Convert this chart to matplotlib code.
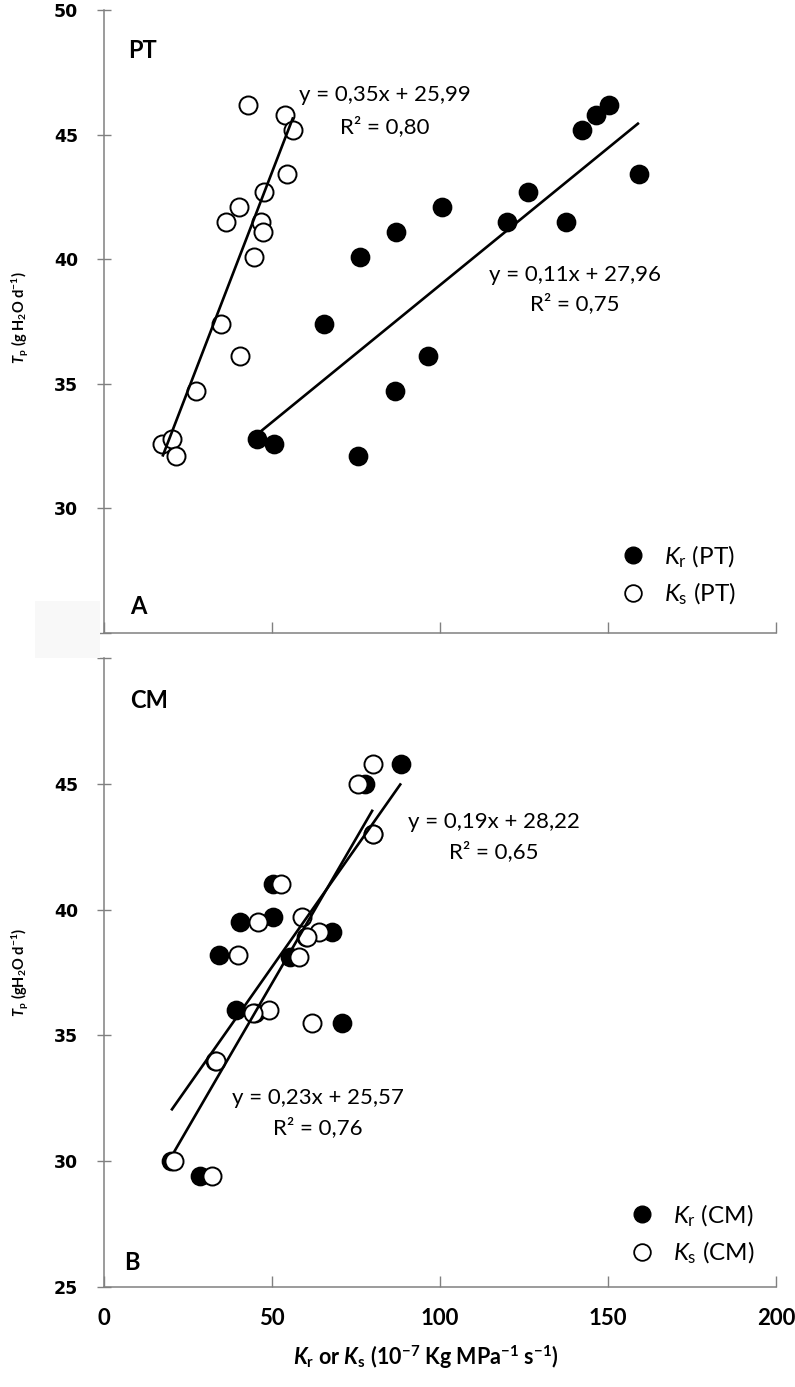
import matplotlib
matplotlib.use("Agg")
import matplotlib.pyplot as plt
import numpy as np
from matplotlib.lines import Line2D
from matplotlib.patches import Rectangle

plt.rcParams['mathtext.fontset'] = 'custom'
plt.rcParams['mathtext.rm'] = 'Lato'
plt.rcParams['mathtext.it'] = 'Lato:italic'
plt.rcParams['mathtext.bf'] = 'Lato:bold'
plt.rcParams['mathtext.bfit'] = 'Lato:bold:italic'
plt.rcParams['font.family'] = ['Lato', 'DejaVu Sans']

# ---- data: panel A (PT) ----
pt_kr = [150.3, 146.3, 142.4, 159.2, 126.1, 100.5, 137.4, 120.0, 86.9, 76.2, 65.5, 96.5, 86.6, 50.6, 45.4, 75.7]
pt_ks = [43.0, 53.9, 56.3, 54.4, 47.7, 40.3, 36.2, 46.7, 47.4, 44.6, 34.7, 40.5, 27.3, 17.4, 20.1, 21.4]
pt_tp = [46.2, 45.8, 45.2, 43.4, 42.7, 42.1, 41.5, 41.5, 41.1, 40.1, 37.4, 36.1, 34.7, 32.6, 32.8, 32.1]
pt_fit_kr = (0.11, 27.96)
pt_fit_ks = (0.35, 25.99)

# ---- data: panel B (CM) ----
cm_kr = [88.4, 77.7, 80.0, 50.4, 40.5, 50.4, 67.8, 60.0, 55.4, 34.3, 39.3, 45.0, 70.9, 33.0, 20.0, 28.6]
cm_ks = [80.0, 75.7, 80.0, 52.7, 45.9, 58.9, 64.0, 60.3, 58.0, 39.8, 49.1, 44.4, 62.0, 33.2, 20.8, 32.2]
cm_tp = [45.8, 45.0, 43.0, 41.0, 39.5, 39.7, 39.1, 38.9, 38.1, 38.2, 36.0, 35.9, 35.5, 34.0, 30.0, 29.4]
cm_fit_kr = (0.19, 28.22)
cm_fit_ks = (0.23, 25.57)

xticks = [0, 50, 100, 150, 200]
yticks = [25, 30, 35, 40, 45, 50]

W, H = 795, 1387
fig = plt.figure(figsize=(W / 100, H / 100), dpi=100)

def fx(px):
    return px / W

def fy(py):
    return 1 - py / H

axA = fig.add_axes([fx(104), fy(633), fx(776) - fx(104), fy(10) - fy(633)])
axB = fig.add_axes([fx(104), fy(1287), fx(776) - fx(104), fy(658) - fy(1287)])

ms = 13
spine_col = '#808080'

def style(ax, show_xlabels, ylab_show):
    ax.set_xlim(0, 200)
    ax.set_ylim(25, 50)
    for s in ['top', 'right']:
        ax.spines[s].set_visible(False)
    for s in ['left', 'bottom']:
        ax.spines[s].set_color(spine_col)
        ax.spines[s].set_linewidth(1.1)
    ax.set_xticks(xticks)
    ax.set_yticks(yticks)
    ax.set_yticklabels([str(v) if v in ylab_show else '' for v in yticks],
                       fontfamily='DejaVu Sans', fontweight='bold', fontsize=12.5)
    if show_xlabels:
        ax.set_xticklabels([str(v) for v in xticks], fontweight='bold', fontsize=16)
    else:
        ax.set_xticklabels([])
    ax.tick_params(axis='y', direction='inout', length=10, width=1.0, color=spine_col, pad=13.5)
    ax.tick_params(axis='x', direction='in', length=8, width=1.0, color=spine_col, pad=15)

def draw_fit(ax, fit, xs):
    x = np.array([min(xs), max(xs)])
    ax.plot(x, fit[0] * x + fit[1], color='black', lw=1.9, zorder=4, solid_capstyle='butt')

# Panel A
axA.plot(pt_kr, pt_tp, 'o', ms=ms, mfc='black', mec='black', mew=1.2, zorder=3)
axA.plot(pt_ks, pt_tp, 'o', ms=ms, mfc='white', mec='black', mew=1.4, zorder=3)
draw_fit(axA, pt_fit_ks, pt_ks)
draw_fit(axA, pt_fit_kr, pt_kr)
style(axA, False, [30, 35, 40, 45, 50])

# Panel B
axB.plot(cm_kr, cm_tp, 'o', ms=ms, mfc='black', mec='black', mew=1.2, zorder=3)
axB.plot(cm_ks, cm_tp, 'o', ms=ms, mfc='white', mec='black', mew=1.4, zorder=3)
draw_fit(axB, cm_fit_kr, cm_kr)
draw_fit(axB, cm_fit_ks, cm_ks)
style(axB, True, [25, 30, 35, 40, 45])

eq_fs = 16
def eq(cx, cy1, cy2, fit, r2):
    fig.text(fx(cx), fy(cy1), 'y = %s x + %s' % (('%.2f' % fit[0]).replace('.', ','),
                                                ('%.2f' % fit[1]).replace('.', ',')),
             ha='center', va='center', fontsize=eq_fs)
    fig.text(fx(cx), fy(cy2), 'R² = %s' % ('%.2f' % r2).replace('.', ','),
             ha='center', va='center', fontsize=eq_fs)

def eq(cx, cy1, cy2, fit, r2):
    a = ('%.2f' % fit[0]).replace('.', ',')
    b = ('%.2f' % fit[1]).replace('.', ',')
    fig.text(fx(cx), fy(cy1), 'y = %sx + %s' % (a, b), ha='center', va='center', fontsize=eq_fs)
    fig.text(fx(cx), fy(cy2), 'R² = %s' % ('%.2f' % r2).replace('.', ','),
             ha='center', va='center', fontsize=eq_fs)

eq(385, 95, 127, pt_fit_ks, 0.80)
eq(575, 275, 304, pt_fit_kr, 0.75)
eq(494, 822, 852, cm_fit_kr, 0.65)
eq(318, 1098, 1128, cm_fit_ks, 0.76)

fig.text(fx(128), fy(50), 'PT', ha='left', va='center', fontsize=17, fontweight='bold')
fig.text(fx(130), fy(607), 'A', ha='left', va='center', fontsize=17, fontweight='bold')
fig.text(fx(130), fy(700), 'CM', ha='left', va='center', fontsize=17, fontweight='bold')
fig.text(fx(124), fy(1262), 'B', ha='left', va='center', fontsize=17, fontweight='bold')

# legends
leg_fs = 17.5
def legend(ax, lab1, lab2, anchor):
    h = [Line2D([], [], ls='none', marker='o', ms=12, mfc='black', mec='black'),
         Line2D([], [], ls='none', marker='o', ms=12, mfc='white', mec='black', mew=1.3)]
    lg = ax.legend(h, [lab1, lab2], loc='center left', bbox_to_anchor=anchor,
                   bbox_transform=fig.transFigure, frameon=False, fontsize=leg_fs,
                   handletextpad=0.75, labelspacing=0.45, borderpad=0, borderaxespad=0,
                   handlelength=1.0)
    return lg

legend(axA, r'$\mathit{K}_\mathrm{r}$ (PT)', r'$\mathit{K}_\mathrm{s}$ (PT)', (fx(621), fy(575)))
legend(axB, r'$\mathit{K}_\mathrm{r}$ (CM)', r'$\mathit{K}_\mathrm{s}$ (CM)', (fx(630), fy(1234)))

# axis labels
fig.text(fx(20), fy(318), r'$\mathbfit{T}_\mathbf{p}$ (g H$_\mathbf{2}$O d$^\mathbf{-1}$)',
         rotation=90, ha='center', va='center', fontsize=10.5, fontweight='bold')
fig.text(fx(20), fy(972), r'$\mathbfit{T}_\mathbf{p}$ (gH$_\mathbf{2}$O d$^\mathbf{-1}$)',
         rotation=90, ha='center', va='center', fontsize=10.5, fontweight='bold')
fig.text(fx(426), fy(1357),
         r'$\mathbfit{K}_\mathbf{r}$ or $\mathbfit{K}_\mathbf{s}$ (10$^\mathbf{-7}$ Kg MPa$^\mathbf{-1}$ s$^\mathbf{-1}$)',
         ha='center', va='center', fontsize=15.5, fontweight='bold')

# faint patch covering overlapping tick labels
fig.patches.append(Rectangle((fx(35), fy(658)), fx(100) - fx(35), fy(601) - fy(658),
                             transform=fig.transFigure, facecolor='#f8f8f8',
                             edgecolor='none', zorder=0))

fig.savefig('out.png', dpi=100)
